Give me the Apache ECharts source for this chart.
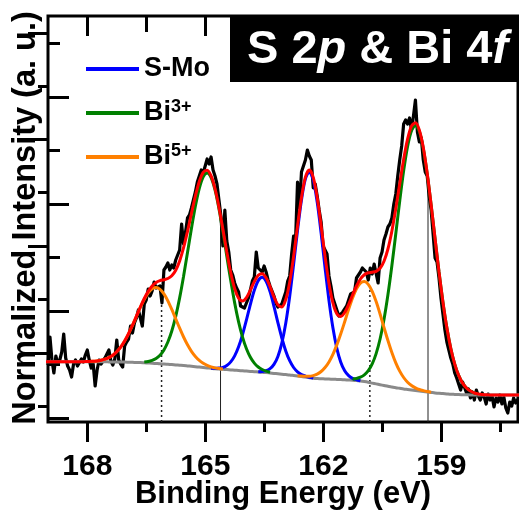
<!DOCTYPE html>
<html><head><meta charset="utf-8">
<script src="https://cdn.jsdelivr.net/npm/echarts@6/dist/echarts.min.js"></script>
<style>html,body{margin:0;padding:0;background:#fff}#c{width:519px;height:511px}</style>
</head><body><div id="c"></div><script>
// ---- measured spectrum (binding energy in eV, intensity in a.u.) ----
const dataStart = 169.0, dataStep = 0.05;
const intensity = [57,85,62,49,66,58,62,70,88,64,
56,52,45,58,62,56,57,63,60,67,
72,62,54,58,36,52,62,58,57,64,
63,72,61,57,63,82,62,58,55,76,
80,83,96,89,99,104,112,104,96,118,
122,133,126,131,140,134,132,136,119,152,
155,159,152,157,154,162,160,172,198,178,
190,204,207,214,222,230,240,246,252,249,
256,263,258,265,252,246,238,222,206,176,
212,181,170,152,147,139,134,130,116,118,
114,112,124,132,141,145,170,154,152,150,
156,150,142,136,131,126,119,115,113,118,
124,130,141,146,168,186,182,240,214,250,
252,262,272,266,262,234,238,226,212,200,
176,172,168,146,136,124,118,112,106,104,
110,112,116,122,128,126,130,144,146,150,
154,156,150,142,154,148,158,156,139,164,
170,182,188,195,198,204,218,228,246,262,
276,298,302,298,304,292,306,322,290,280,
284,262,250,246,226,212,188,164,160,144,
124,108,92,80,72,64,58,49,44,38,
32,40,38,29,33,24,30,22,32,26,
22,29,25,18,28,22,26,15,24,20,
27,18,25,14,9,20,16,24,19,22,
26];

// ---- fit curves, sampled every 0.1 eV ----
const fitStart = 169.05, fitStep = 0.1;
const background = [60.3,60.3,60.3,60.3,60.3,60.3,60.3,60.3,60.3,60.3,
60.3,60.3,60.3,60.2,60.2,60.2,60.1,60.0,60.0,59.9,
59.9,59.8,59.7,59.5,59.4,59.2,59.0,58.8,58.5,58.2,
58.0,57.7,57.4,57.1,56.8,56.5,56.1,55.7,55.3,54.9,
54.5,54.1,53.7,53.3,53.0,52.7,52.4,52.1,51.8,51.5,
51.2,50.9,50.6,50.3,50.0,49.7,49.4,49.0,48.6,48.2,
47.8,47.4,47.0,46.5,46.0,45.5,45.0,44.3,43.8,43.5,
43.3,43.1,42.9,42.8,42.6,42.4,42.2,42.0,41.8,41.5,
41.0,40.4,39.7,38.9,38.1,37.3,36.5,35.7,35.0,34.3,
33.7,33.1,32.6,32.1,31.6,31.1,30.6,30.1,29.6,29.1,
28.7,28.4,28.1,27.8,27.6,27.4,27.3,27.2,27.1,27.0,
27.0,27.0,27.0,27.0,27.0,27.0,27.0,27.0,27.0,27.0,
27.0,27.0];
const envelope = [60.3,60.3,60.3,60.3,60.3,60.3,60.3,60.3,60.3,60.3,
60.4,60.5,60.8,61.0,61.7,62.8,64.4,66.8,70.3,74.9,
81.0,88.4,96.8,105.8,115.0,123.5,130.7,136.1,139.5,141.3,
142.3,143.5,146.2,151.8,161.1,174.3,190.6,208.5,226.0,240.5,
249.6,251.7,246.1,233.3,214.8,192.7,170.1,149.4,133.4,123.8,
121.0,124.4,131.8,140.4,146.7,148.3,144.2,135.5,125.1,117.0,
115.1,122.5,139.8,165.6,196.0,224.4,244.9,252.1,244.7,224.4,
196.1,165.6,138.6,119.1,108.2,105.6,109.5,117.5,127.0,136.0,
143.0,147.3,149.2,149.8,150.7,153.7,160.7,173.0,190.8,213.2,
238.2,262.5,282.8,295.8,299.2,291.8,274.4,248.5,217.1,183.1,
150.0,119.9,94.2,73.5,57.9,46.6,38.9,34.0,30.9,29.0,
28.0,27.5,27.2,27.1,27.0,27.0,27.0,27.0,27.0,27.0,
27.0,27.0];

// components (background included), each with its first energy
const sMo2p32 = [50.3,50.5,51.3,53.3,57.6,65.6,78.9,98.8,125.5,157.6,191.6,222.0,243.2,250.3,242.0,220.0,188.9,154.2,121.4,94.2,73.7,59.8,51.2,46.3,43.7,42.3,41.3];
const sMo2p32Start = 163.65;
const sMo2p12 = [53.8,53.7,53.9,54.7,56.6,60.1,66.1,75.2,87.4,102.1,117.7,131.7,141.4,144.7,140.8,130.4,115.7,99.4,84.0,71.1,61.3,54.5,50.2,47.5,45.9,44.7,43.9];
const sMo2p12Start = 164.85;
const bi3f72 = [42.8,43.5,44.8,47.2,51.3,58.1,68.4,83.0,102.6,127.2,156.3,188.3,221.0,251.1,275.6,291.4,296.6,290.4,273.6,248.1,216.9,183.1,150.0,119.9,94.2,73.5,57.9,46.6,38.9,34.0,30.9,29.0,28.0];
const bi3f72Start = 161.25;
const bi3f52 = [60.0,60.5,61.6,63.5,66.8,72.1,80.0,91.0,105.7,124.1,145.8,169.5,193.5,215.7,233.7,245.3,249.1,244.5,232.1,213.4,190.5,165.8,141.4,119.1,100.1,84.8,73.2,64.7,58.9,55.0,52.5,50.9,49.8];
const bi3f52Start = 166.55;
const bi5f72 = [46.2,45.9,45.8,45.7,46.4,47.9,50.5,54.5,60.1,67.7,77.1,88.2,100.3,112.7,124.1,133.2,138.9,140.4,137.6,130.6,120.4,108.0,94.6,81.5,69.5,59.2,50.9,44.5,39.8,36.5,34.2,32.5,31.4,30.5,29.8];
const bi5f72Start = 162.65;
const bi5f52 = [60.5,60.8,61.0,61.7,62.8,64.4,66.8,70.3,74.9,81.0,88.3,96.7,105.6,114.6,122.7,129.2,133.3,134.5,132.7,128.2,121.2,112.6,103.2,93.8,85.0,77.2,70.7,65.6,61.7,58.8,56.7,55.2,54.1,53.5,52.9];
const bi5f52Start = 167.95;

// reference drop lines
const solidLineBE = [164.61, 159.33];
const solidLineTop = [204, 242];
const dottedLineBE = [166.11, 160.81];
const dottedLineTop = [130, 133];

// tick labels
const xMajorTicks = ['168','165','162','159'];
const legendNames = ['S-Mo','Bi3+','Bi5+'];

// ---- build ----
const FONT = '"Liberation Sans", Arial, sans-serif';
function seq(start, step, vals){ return vals.map((v,i)=>[+(start - step*i).toFixed(3), v]); }
const colors = {'S-Mo':'#0000ff','Bi3+':'#008000','Bi5+':'#ff8000'};

function comp(name, start, vals){
  return {type:'line', name, data: seq(start, fitStep, vals), xAxisIndex:0, yAxisIndex:0,
    symbol:'none', smooth:0.3, z:4, color: colors[name],
    lineStyle:{color: colors[name], width:3}};
}
const series = [
  {type:'line', name:'data', data: seq(dataStart, dataStep, intensity), xAxisIndex:0, yAxisIndex:0,
    symbol:'none', z:2, lineStyle:{color:'#000', width:3.2, join:'round'}},
  {type:'line', name:'bg', data: seq(fitStart, fitStep, background), xAxisIndex:0, yAxisIndex:0,
    symbol:'none', smooth:0.3, z:3, lineStyle:{color:'#8a8a8a', width:3}},
  comp('S-Mo', sMo2p32Start, sMo2p32),
  comp('S-Mo', sMo2p12Start, sMo2p12),
  comp('Bi3+', bi3f72Start, bi3f72),
  comp('Bi3+', bi3f52Start, bi3f52),
  comp('Bi5+', bi5f72Start, bi5f72),
  comp('Bi5+', bi5f52Start, bi5f52),
  {type:'line', name:'fit', data: seq(fitStart, fitStep, envelope), xAxisIndex:0, yAxisIndex:0,
    symbol:'none', smooth:0.3, z:6, lineStyle:{color:'#ff0000', width:3}}
];
solidLineBE.forEach((x,i)=>series.push({type:'line', data:[[x,0],[x,solidLineTop[i]]], xAxisIndex:0, yAxisIndex:0,
  symbol:'none', z:1, silent:true, lineStyle:{color:'#222', width:1}}));
dottedLineBE.forEach((x,i)=>series.push({type:'line', data:[[x,0],[x,dottedLineTop[i]]], xAxisIndex:0, yAxisIndex:0,
  symbol:'none', z:1, silent:true, lineStyle:{color:'#222', width:1.5, type:[2,3]}}));

const tickStyle = {color:'#000', width:3};
const hiddenX = g => ({gridIndex:g, type:'value', show:false, min:0, max:1});
const hiddenY = g => ({gridIndex:g, type:'value', show:false, min:0, max:1});
function xTickAxis(g, pos, min, max, inside, len, labels){
  return {gridIndex:g, type:'value', position:pos, min, max, interval:3, inverse:true,
    axisLine:{show:false}, splitLine:{show:false},
    axisTick:{show:true, inside, length:len, lineStyle:tickStyle},
    axisLabel:{show:labels, margin:30, fontSize:30, fontWeight:'bold', fontFamily:FONT, color:'#000',
      formatter: v => xMajorTicks.includes(String(v)) ? String(v) : ''}};
}
function yTickAxis(g, pos, len){
  return {gridIndex:g, type:'value', position:pos, min:0, max:3, interval:1,
    axisLine:{show:false}, splitLine:{show:false}, axisLabel:{show:false},
    axisTick:{show:true, inside:true, length:len, lineStyle:tickStyle}};
}

const option = {
  animation:false,
  grid:[
    {left:48, right:1, top:16, bottom:89, show:true, borderColor:'#000', borderWidth:3, backgroundColor:'transparent'},
    {left:87.3, right:77.7, top:16, bottom:89},
    {left:146.3, right:18.7, top:16, bottom:89},
    {left:48, right:1, top:97, bottom:93},
    {left:48, right:1, top:43, bottom:147},
    {left:48, right:1, top:33, bottom:158},
    {left:48, right:1, top:86, bottom:105}
  ],
  xAxis:[
    {gridIndex:0, type:'value', min:157.04, max:169, inverse:true, show:false},
    xTickAxis(1,'bottom',159,168,false,20,true),
    xTickAxis(1,'top',159,168,true,20,false),
    xTickAxis(2,'bottom',157.5,166.5,false,10,false),
    xTickAxis(2,'top',157.5,166.5,true,16,false),
    hiddenX(3), hiddenX(4), hiddenX(5), hiddenX(6)
  ],
  yAxis:[
    {gridIndex:0, type:'value', min:0, max:406, show:false},
    hiddenY(1), hiddenY(2),
    yTickAxis(3,'left',21),
    yTickAxis(4,'left',12),
    yTickAxis(5,'right',20),
    yTickAxis(6,'right',10)
  ],
  legend:{
    data: legendNames, orient:'vertical', left:86, top:54, padding:0,
    itemWidth:53, itemHeight:4, itemGap:14, icon:'rect', selectedMode:false,
    formatter: n => n === 'S-Mo' ? '{t|S-Mo}' : '{t|Bi}{s|' + n.slice(2) + '}',
    textStyle:{color:'#000', fontFamily:FONT, fontWeight:'bold', fontSize:27, lineHeight:30,
      rich:{t:{fontSize:27, fontWeight:'bold', fontFamily:FONT, lineHeight:30, color:'#000'},
            s:{fontSize:18, fontWeight:'bold', fontFamily:FONT, verticalAlign:'top', lineHeight:20, color:'#000'}}}
  },
  graphic:[
    {type:'rect', z:100, shape:{x:230, y:16, width:289, height:66}, style:{fill:'#000'}},
    {type:'text', z:101, x:247, y:50, style:{
      text:'{n|S 2}{i|p}{n| & Bi 4}{i|f}', verticalAlign:'middle', align:'left',
      rich:{n:{fontSize:47, fontWeight:'bold', fontFamily:FONT, fill:'#fff'},
            i:{fontSize:47, fontWeight:'bold', fontStyle:'italic', fontFamily:FONT, fill:'#fff'}}}},
    {type:'text', z:101, x:283, y:494, style:{text:'Binding Energy (eV)', align:'center', verticalAlign:'middle',
      fontSize:31, fontWeight:'bold', fontFamily:FONT, fill:'#000'}},
    {type:'text', z:101, x:26, y:218, rotation:Math.PI/2, style:{text:'Normalized Intensity (a. u.)', align:'center', verticalAlign:'middle',
      fontSize:32.5, fontWeight:'bold', fontFamily:FONT, fill:'#000'}}
  ],
  series
};
const chart = echarts.init(document.getElementById('c'), null, {renderer:'canvas'});
chart.setOption(option);
</script></body></html>
